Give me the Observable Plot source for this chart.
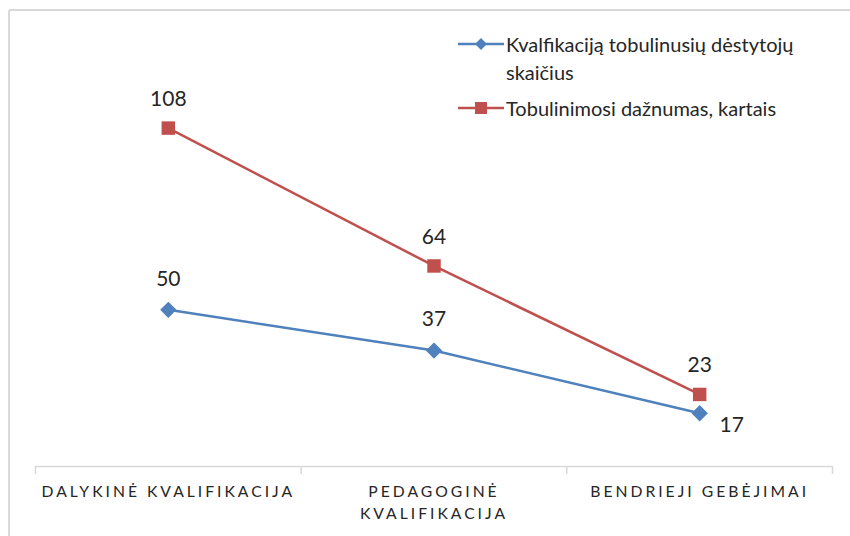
<!DOCTYPE html>
<html>
<head>
<meta charset="utf-8">
<script src="https://cdn.jsdelivr.net/npm/d3@7"></script>
<script src="https://cdn.jsdelivr.net/npm/@observablehq/plot@0.6"></script>
<style>
  html, body { margin: 0; padding: 0; background: #fff; overflow: hidden; width: 850px; height: 536px; }
  #wrap { position: relative; width: 850px; height: 536px; font-family: Lato, "Open Sans", sans-serif; }
  #frame { position: absolute; left: 8px; top: 9px; width: 900px; height: 600px; border: 2px solid #d9d9d9; border-radius: 3px; box-sizing: border-box; }
  #chart { position: absolute; left: 0; top: 0; }
  g[aria-label="x-axis tick label"] text { letter-spacing: 3px; }
  #legend { position: absolute; left: 458px; top: 30px; font-size: 20px; color: #262626; line-height: 28px; }
  .item { display: flex; align-items: flex-start; margin-bottom: 8px; }
  .item svg { flex: none; margin-top: 4px; }
</style>
</head>
<body>
<div id="wrap">
  <div id="frame"></div>
  <div id="chart"></div>
  <div id="legend"></div>
</div>
<script>
const categories = ["DALYKINĖ KVALIFIKACIJA", "PEDAGOGINĖ\nKVALIFIKACIJA", "BENDRIEJI GEBĖJIMAI"];
const seriesNames = ["Kvalfikaciją tobulinusių dėstytojų skaičius", "Tobulinimosi dažnumas, kartais"];
const teachers = [50, 37, 17];
const frequency = [108, 64, 23];
const colors = ["#4F81BD", "#C0504D"];

const blue = categories.map((c, i) => ({cat: c, i, value: teachers[i]}));
const red = categories.map((c, i) => ({cat: c, i, value: frequency[i]}));
const boundaries = d3.range(categories.length + 1);

const chart = Plot.plot({
  width: 850,
  height: 536,
  marginLeft: 35,
  marginRight: 18,
  marginTop: 90,
  marginBottom: 70,
  style: {fontFamily: "Lato, 'Open Sans', sans-serif", background: "transparent", color: "#404040"},
  x: {type: "linear", domain: [0, categories.length], axis: null},
  y: {domain: [0, 120], axis: null},
  marks: [
    Plot.ruleY([0], {stroke: "#d9d9d9", strokeWidth: 1.5}),
    Plot.axisX(boundaries, {tickSize: 8, tickFormat: () => "", stroke: "#d9d9d9", strokeWidth: 1.5}),
    Plot.axisX(categories.map((c, i) => i + 0.5), {
      tickSize: 0, tickPadding: 15, fontSize: 15.7, fill: "#262626", lineHeight: 1.4,
      tickFormat: (d) => categories[Math.floor(d)]
    }),
    Plot.line(red, {x: d => d.i + 0.5, y: "value", stroke: colors[1], strokeWidth: 2.5}),
    Plot.line(blue, {x: d => d.i + 0.5, y: "value", stroke: colors[0], strokeWidth: 2.5}),
    Plot.dot(red, {x: d => d.i + 0.5, y: "value", symbol: "square", r: 7.6, fill: colors[1]}),
    Plot.dot(blue, {x: d => d.i + 0.5, y: "value", symbol: "diamond2", r: 6.4, fill: colors[0], stroke: colors[0]}),
    Plot.text(red, {x: d => d.i + 0.5, y: "value", text: d => String(d.value), dy: -29, fontSize: 21, fill: "#262626"}),
    Plot.text(blue.slice(0, 2), {x: d => d.i + 0.5, y: "value", text: d => String(d.value), dy: -31, fontSize: 21, fill: "#262626"}),
    Plot.text(blue.slice(2), {x: d => d.i + 0.5, y: "value", text: d => String(d.value), dx: 32, dy: 12, fontSize: 21, fill: "#262626"})
  ]
});
document.getElementById("chart").appendChild(chart);

const legend = d3.select("#legend");
const symbols = ["diamond", "square"];
seriesNames.forEach((name, k) => {
  const item = legend.append("div").attr("class", "item");
  const s = item.append("svg").attr("width", 48).attr("height", 20);
  s.append("line").attr("x1", 0).attr("x2", 46).attr("y1", 10).attr("y2", 10)
    .attr("stroke", colors[k]).attr("stroke-width", 2.5);
  if (symbols[k] === "diamond") {
    s.append("path").attr("d", "M23,4 L29,10 L23,16 L17,10 Z").attr("fill", colors[k]);
  } else {
    s.append("rect").attr("x", 17).attr("y", 4).attr("width", 12).attr("height", 12).attr("fill", colors[k]);
  }
  const t = item.append("div").style("width", k === 0 ? "340px" : "380px");
  if (k === 0) { t.html("Kvalfikaciją tobulinusių dėstytojų<br>skaičius"); } else { t.text(name); }
});
</script>
</body>
</html>
